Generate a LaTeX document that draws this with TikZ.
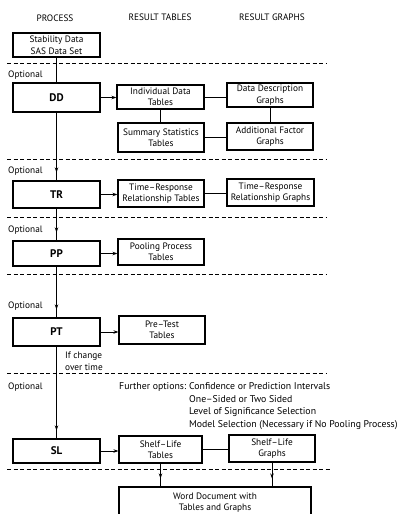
\documentclass[tikz,border=0pt]{standalone}
\usepackage{fontspec}
\setmainfont{PT Sans}
\usetikzlibrary{arrows.meta,decorations.markings}
\begin{document}
\begin{tikzpicture}[x=1pt,y=-1pt,
  font=\fontsize{9.3}{11.5}\selectfont,
  box/.style={draw,line width=1.1pt,align=center,inner sep=1pt},
  pbox/.style={box,minimum width=87pt,font=\fontsize{11}{12}\selectfont\bfseries},
  conn/.style={line width=0.8pt},
  arr/.style={conn,-{Stealth[length=5pt,width=3.5pt]}},
  midarr/.style={conn,postaction={decorate},decoration={markings,
     mark=at position -8pt with {\arrow{Stealth[length=5pt,width=3.5pt]}}}},
  sep/.style={line width=0.8pt,dash pattern=on 4pt off 2.5pt},
  lbl/.style={anchor=west,inner sep=0pt}]
\useasboundingbox (0,0) rectangle (400,514);
\clip (0,0) rectangle (400,514);
% headers
\node (h1) at (55,18) {PROCESS};
\node (h2) at (160,17) {RESULT TABLES};
\node (h3) at (272,17) {RESULT GRAPHS};
% separators
\foreach \yy in {63,159,217,274,373}{\draw[sep] (7,\yy) -- (327,\yy);}
\draw[sep] (7,469) -- (330,469);
% optional labels
\foreach \yy in {75,171,230,306,387}{\node[lbl] at (8,\yy) {Optional};}
% process boxes
\node[box,minimum width=87pt,minimum height=24pt] (stab) at (56.5,45) {Stability Data\\SAS Data Set};
\node[pbox,minimum height=29pt] (dd) at (56.5,97.5) {DD};
\node[pbox,minimum height=27pt] (tr) at (56.5,194.5) {TR};
\node[pbox,minimum height=25pt] (pp) at (56.5,253.5) {PP};
\node[pbox,minimum height=28pt] (pt) at (56.5,332) {PT};
\node[pbox,minimum height=24pt] (sl) at (56.5,451) {SL};
% tables
\node[box,minimum width=87pt,minimum height=24pt] (ind) at (160.5,97) {Individual Data\\Tables};
\node[box,minimum width=86pt,minimum height=29pt] (sum) at (161,137.5) {Summary Statistics\\Tables};
\node[box,minimum width=86pt,minimum height=27pt] (trt) at (161,193.5) {Time--Response\\Relationship Tables};
\node[box,minimum width=86pt,minimum height=26pt] (ppt) at (161,252) {Pooling Process\\Tables};
\node[box,minimum width=86pt,minimum height=28pt] (pret) at (162,330) {Pre--Test\\Tables};
\node[box,minimum width=83pt,minimum height=27pt] (slt) at (160.5,449.5) {Shelf--Life\\Tables};
% graphs
\node[box,minimum width=86pt,minimum height=24pt] (ddg) at (270,95) {Data Description\\Graphs};
\node[box,minimum width=86pt,minimum height=27pt] (adf) at (270,136.5) {Additional Factor\\Graphs};
\node[box,minimum width=87pt,minimum height=27pt] (trg) at (270.5,192.5) {Time--Response\\Relationship Graphs};
\node[box,minimum width=86pt,minimum height=27pt] (slg) at (272,448.5) {Shelf--Life\\Graphs};
% word document
\node[box,minimum width=192pt,minimum height=32pt,font=\fontsize{9.3}{11}\selectfont] (word) at (215,503) {Word Document with\\Tables and Graphs};
% notes
\node[lbl,align=left] (chg) at (65,361.5) {If change\\over time};
\node[lbl,font=\fontsize{9.8}{12.7}\selectfont] (fo) at (119,387) {Further options:};
\node[lbl,align=left,font=\fontsize{9.8}{12.7}\selectfont] (opts) at (189,406) {Confidence or Prediction Intervals\\One--Sided or Two Sided\\Level of Significance Selection\\Model Selection (Necessary if No Pooling Process)};
% main flow
\draw[conn] (stab.south) -- (dd.north);
\draw[midarr] (dd.south) -- (tr.north);
\draw[midarr] (tr.south) -- (pp.north);
\draw[midarr] (pp.south) -- (pt.north);
\draw[midarr] (pt.south) -- (sl.north);
% to tables
\draw[arr] (dd.east) -- (dd.east -| ind.west);
\draw[arr] (tr.east) -- (tr.east -| trt.west);
\draw[arr] (pp.east) -- (pp.east -| ppt.west);
\draw[arr] (pt.east) -- (pt.east -| pret.west);
\draw[arr] (sl.east) -- (sl.east -| slt.west);
% table-graph links
\draw[conn] (ind.east) -- (ind.east -| ddg.west);
\draw[conn] (ind.south) -- (ind.south |- sum.north);
\draw[conn] (ddg.south) -- (ddg.south |- adf.north);
\draw[conn] (sum.east) -- (sum.east -| adf.west);
\draw[conn] (trt.east) -- (trt.east -| trg.west);
\draw[conn] (slt.east) -- (slt.east -| slg.west);
% to word
\draw[midarr] (slt.south) -- (slt.south |- word.north);
\draw[midarr] (slg.south) -- (slg.south |- word.north);
\end{tikzpicture}
\end{document}
